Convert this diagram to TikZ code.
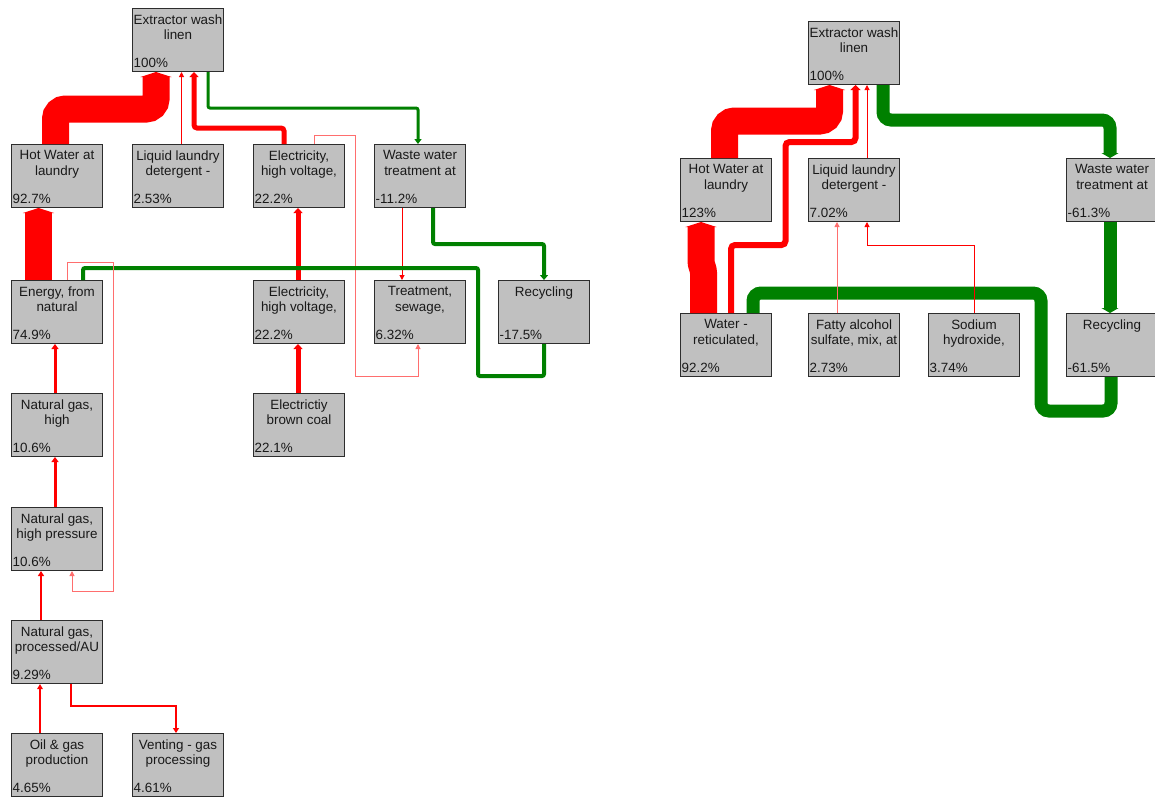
\documentclass[tikz,border=0pt]{standalone}
\usepackage{fontspec}
\setmainfont{Liberation Sans}
\usetikzlibrary{arrows.meta}
\definecolor{flowred}{RGB}{255,0,0}
\definecolor{flowgreen}{RGB}{0,128,0}
\definecolor{lightred}{RGB}{255,110,110}
\definecolor{boxgray}{RGB}{192,192,192}
\definecolor{boxline}{RGB}{45,45,45}
\definecolor{textcol}{RGB}{25,25,25}
\tikzset{
  pbox/.style={anchor=north west, rectangle, draw=boxline, fill=boxgray,
    minimum width=91pt, minimum height=63pt, inner sep=0pt, line width=1pt},
  plabel/.style={anchor=north, align=center, inner sep=0pt, text=textcol,
    font=\fontsize{13.4}{15.5}\selectfont},
  ppct/.style={anchor=base west, inner sep=0pt, text=textcol,
    font=\fontsize{13.4}{15.5}\selectfont},
  arr/.style={-{Triangle[length=5pt,width=4pt 1]}},
  redflow/.style={draw=flowred},
  lightflow/.style={draw=lightred},
  greenflow/.style={draw=flowgreen},
}
\newcommand{\procbox}[5]{%
  \node[pbox] (#1) at (#2,#3) {};
  \node[plabel] (#1-l) at ([yshift=-6.3pt]#1.north) {#4};
  \node[ppct] (#1-p) at ([xshift=1.5pt,yshift=4.5pt]#1.south west) {#5};
}
\begin{document}
\begin{tikzpicture}[x=1pt,y=-1pt]
\useasboundingbox (0,0) rectangle (1155,796);
% ---------- left diagram boxes
\procbox{ext1}{132}{8}{Extractor wash\\linen}{100\%}
\procbox{hw1}{11}{144}{Hot Water at\\laundry}{92.7\%}
\procbox{det1}{132}{144}{Liquid laundry\\detergent -}{2.53\%}
\procbox{el1}{253}{144}{Electricity,\\high voltage,}{22.2\%}
\procbox{ww1}{374}{144}{Waste water\\treatment at}{-11.2\%}
\procbox{en1}{11}{280}{Energy, from\\natural}{74.9\%}
\procbox{el2}{253}{280}{Electricity,\\high voltage,}{22.2\%}
\procbox{ts1}{374}{280}{Treatment,\\sewage,}{6.32\%}
\procbox{rc1}{498}{280}{Recycling}{-17.5\%}
\procbox{ngh}{11}{393}{Natural gas,\\high}{10.6\%}
\procbox{coal}{253}{393}{Electrictiy\\brown coal}{22.1\%}
\procbox{nghp}{11}{507}{Natural gas,\\high pressure}{10.6\%}
\procbox{ngp}{11}{620}{Natural gas,\\processed/AU}{9.29\%}
\procbox{oil}{11}{733}{Oil \& gas\\production}{4.65\%}
\procbox{vent}{132}{733}{Venting - gas\\processing}{4.61\%}
% ---------- right diagram boxes
\procbox{ext2}{808}{21}{Extractor wash\\linen}{100\%}
\procbox{hw2}{680}{158}{Hot Water at\\laundry}{123\%}
\procbox{det2}{808}{158}{Liquid laundry\\detergent -}{7.02\%}
\procbox{ww2}{1066}{158}{Waste water\\treatment at}{-61.3\%}
\procbox{wr2}{680}{313}{Water -\\reticulated,}{92.2\%}
\procbox{fa2}{808}{313}{Fatty alcohol\\sulfate, mix, at}{2.73\%}
\procbox{sh2}{928}{313}{Sodium\\hydroxide,}{3.74\%}
\procbox{rc2}{1066}{313}{Recycling}{-61.5\%}
% ---------- left flows
\draw[redflow, line width=27pt, rounded corners=10pt, arr]
  ([xshift=44.5pt]hw1.north west) -- (55.5,109) -- (156,109) -- ([xshift=24pt]ext1.south west);
\draw[redflow, line width=1pt, arr]
  ([xshift=49.5pt]det1.north west) -- ([xshift=49.5pt]ext1.south west);
\draw[redflow, line width=5pt, rounded corners=3pt, arr]
  ([xshift=31pt]el1.north west) -- (284,128) -- (194,128) -- ([xshift=62pt]ext1.south west);
\draw[greenflow, line width=3pt, rounded corners=2pt, arr]
  ([xshift=76pt]ext1.south west) -- (208,108) -- (418,108) -- ([xshift=44pt]ww1.north west);
\draw[redflow, line width=1pt, arr]
  ([xshift=28pt]ww1.south west) -- ([xshift=28pt]ts1.north west);
\draw[greenflow, line width=4pt, rounded corners=2pt, arr]
  ([xshift=59pt]ww1.south west) -- (433,244) -- (544,244) -- ([xshift=46pt]rc1.north west);
\draw[lightflow, line width=1pt, arr]
  ([xshift=61pt]el1.north west) -- (314,135) -- (355,135) -- (355,376) -- (418,376) -- ([xshift=44pt]ts1.south west);
\draw[redflow, line width=5pt, arr]
  ([xshift=45pt]el2.north west) -- ([xshift=45pt]el1.south west);
\draw[redflow, line width=5pt, arr]
  ([xshift=45pt]coal.north west) -- ([xshift=45pt]el2.south west);
\draw[greenflow, line width=4pt, rounded corners=2pt]
  ([xshift=46pt]rc1.south west) -- (544,376) -- (478,376) -- (478,268) -- (83,268) -- ([xshift=72pt]en1.north west);
\draw[redflow, line width=27pt, arr]
  ([xshift=27.5pt]en1.north west) -- ([xshift=27.5pt]hw1.south west);
\draw[lightflow, line width=1pt, arr]
  ([xshift=56pt]en1.north west) -- (67,262) -- (113,262) -- (113,591) -- (72,591) -- ([xshift=61pt]nghp.south west);
\draw[redflow, line width=3pt, arr]
  ([xshift=44pt]ngh.north west) -- ([xshift=44pt]en1.south west);
\draw[redflow, line width=3pt, arr]
  ([xshift=44pt]nghp.north west) -- ([xshift=44pt]ngh.south west);
\draw[redflow, line width=2pt, arr]
  ([xshift=30pt]ngp.north west) -- ([xshift=30pt]nghp.south west);
\draw[redflow, line width=1.5pt, arr]
  ([xshift=29pt]oil.north west) -- ([xshift=29pt]ngp.south west);
\draw[redflow, line width=2pt, arr]
  ([xshift=59.5pt]ngp.south west) -- (70.5,706) -- (176,706) -- ([xshift=44pt]vent.north west);
% ---------- right flows
\draw[redflow, line width=27pt, rounded corners=10pt, arr]
  ([xshift=44.5pt]hw2.north west) -- (724.5,121) -- (829.5,121) -- ([xshift=21.5pt]ext2.south west);
\draw[redflow, line width=6pt, rounded corners=4pt, arr]
  ([xshift=51pt]wr2.north west) -- (731,245) -- (785.5,245) -- (785.5,142) -- (855.5,142) -- ([xshift=47.5pt]ext2.south west);
\draw[redflow, line width=1pt, arr]
  ([xshift=59pt]det2.north west) -- ([xshift=59pt]ext2.south west);
\draw[greenflow, line width=13pt, rounded corners=8pt, arr]
  ([xshift=75pt]ext2.south west) -- (883,120) -- (1110,120) -- ([xshift=44pt]ww2.north west);
\draw[greenflow, line width=13pt, arr]
  ([xshift=44pt]ww2.south west) -- ([xshift=44pt]rc2.north west);
\draw[greenflow, line width=13pt, rounded corners=8pt]
  ([xshift=45pt]rc2.south west) -- (1111,411) -- (1041,411) -- (1041,293) -- (753,293) -- ([xshift=73pt]wr2.north west);
\draw[redflow, line width=27pt, rounded corners=3pt, arr]
  ([xshift=23.5pt]wr2.north west) -- (703.5,270) -- (701,264) -- ([xshift=21pt]hw2.south west);
\draw[lightflow, line width=1pt, arr]
  ([xshift=29pt]fa2.north west) -- ([xshift=29pt]det2.south west);
\draw[redflow, line width=1pt, arr]
  ([xshift=46pt]sh2.north west) -- (974,245) -- (867,245) -- ([xshift=59pt]det2.south west);
\end{tikzpicture}
\end{document}
